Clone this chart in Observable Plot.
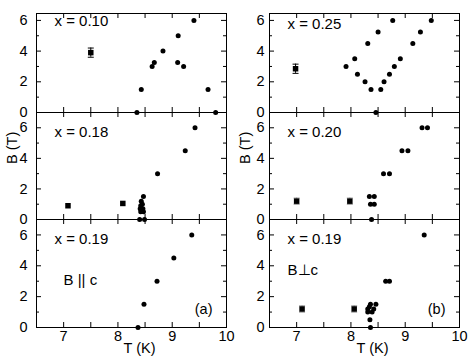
<!DOCTYPE html>
<html>
<head>
<meta charset="utf-8">
<script src="https://cdn.jsdelivr.net/npm/d3@7"></script>
<script src="https://cdn.jsdelivr.net/npm/@observablehq/plot@0.6"></script>
<style>
  html, body { margin: 0; padding: 0; background: white; }
  #chart { position: relative; width: 469px; height: 359px; overflow: hidden; background: white; }
  #chart svg { position: absolute; }
</style>
</head>
<body>
<div id="chart"></div>
<script>
// ---- tick values ----
const xTickLabels = [7, 8, 9, 10];
const xTickMarks = [7, 7.5, 8, 8.5, 9, 9.5];
const yTickLabels = [0, 2, 4, 6];
const yMinorTicks = [1, 3, 5];

// ---- (a) B || c ----
// x = 0.10
const a1DotT = [8.35, 8.43, 8.63, 8.67, 8.83, 9.11, 9.10, 9.21, 9.40, 9.66, 9.80];
const a1DotB = [0, 1.5, 3.0, 3.25, 4.0, 5.0, 3.25, 3.0, 6.0, 1.5, 0];
const a1SqT = [7.5];
const a1SqB = [3.9];
const a1SqErr = [0.3];
// x = 0.18
const a2DotT = [8.40, 8.49, 8.42, 8.47, 8.41, 8.46, 8.42, 8.45, 8.43, 8.47, 8.73, 9.24, 9.42];
const a2DotB = [0, 0, 0.5, 0.5, 0.7, 0.7, 0.9, 1.0, 1.2, 1.5, 3.0, 4.5, 6.0];
const a2SqT = [7.08, 8.09];
const a2SqB = [0.9, 1.05];
const a2SqErr = [0, 0];
// x = 0.19
const a3DotT = [8.37, 8.48, 8.72, 9.03, 9.36];
const a3DotB = [0, 1.5, 3.0, 4.5, 6.0];
const a3SqT = [];
const a3SqB = [];
const a3SqErr = [];

// ---- (b) B ⊥ c ----
// x = 0.25
const b1DotT = [7.91, 8.07, 8.12, 8.26, 8.31, 8.37, 8.46, 8.50, 8.55, 8.61, 8.71, 8.77, 8.80, 8.91, 9.14, 9.28, 9.48];
const b1DotB = [3.0, 3.5, 2.5, 2.0, 4.5, 1.5, 0, 5.25, 1.5, 2.0, 2.5, 6.0, 3.0, 3.5, 4.5, 5.25, 6.0];
const b1SqT = [6.98];
const b1SqB = [2.85];
const b1SqErr = [0.3];
// x = 0.20
const b2DotT = [8.38, 8.36, 8.43, 8.34, 8.43, 8.60, 8.71, 8.94, 9.05, 9.31, 9.41];
const b2DotB = [0, 1.0, 1.0, 1.5, 1.5, 3.0, 3.0, 4.5, 4.5, 6.0, 6.0];
const b2SqT = [7.0, 7.98];
const b2SqB = [1.2, 1.2];
const b2SqErr = [0.2, 0.2];
// x = 0.19
const b3DotT = [8.36, 8.35, 8.31, 8.39, 8.31, 8.42, 8.34, 8.36, 8.46, 8.64, 8.71, 9.35];
const b3DotB = [0, 0.5, 1.0, 1.0, 1.2, 1.2, 1.35, 1.5, 1.5, 3.0, 3.0, 6.0];
const b3SqT = [7.1, 8.06];
const b3SqB = [1.2, 1.2];
const b3SqErr = [0.2, 0.2];

// ---- labels ----
const panelLabels = [["x = 0.10", "x = 0.18", "x = 0.19"], ["x = 0.25", "x = 0.20", "x = 0.19"]];
const fieldLabels = ["B || c", "B\u22A5c"];
const partLabels = ["(a)", "(b)"];
const xLabel = "T (K)";
const yLabel = "B (T)";
const xDomain = [6.5, 10];
const yMax = [6.45, 7, 7];

const series = [
  [[a1DotT, a1DotB, a1SqT, a1SqB, a1SqErr], [a2DotT, a2DotB, a2SqT, a2SqB, a2SqErr], [a3DotT, a3DotB, a3SqT, a3SqB, a3SqErr]],
  [[b1DotT, b1DotB, b1SqT, b1SqB, b1SqErr], [b2DotT, b2DotB, b2SqT, b2SqB, b2SqErr], [b3DotT, b3DotB, b3SqT, b3SqB, b3SqErr]]
];

// ---- layout ----
const cols = [
  {left: 36, right: 226, tickPad: 9},
  {left: 269, right: 459, tickPad: 5}
];
const rows = [
  {top: 13, bottom: 112},
  {top: 112, bottom: 219},
  {top: 219, bottom: 327}
];
const errColors = [["black", "black", "black"], ["black", "#888", "#888"]];
const labelDy = [[7.5, 20, 20], [10.5, 19.5, 20]];
const ML = 40, MR = 12, MT = 8;
const font = "'Liberation Sans', Arial, Helvetica, sans-serif";

const capSymbol = {
  draw(context) {
    context.moveTo(-3, 0);
    context.lineTo(3, 0);
  }
};

const chart = document.getElementById("chart");

cols.forEach((col, ci) => {
  rows.forEach((row, ri) => {
    const [dT, dB, sT, sB, sE] = series[ci][ri];
    const dots = dT.map((t, i) => ({T: t, B: dB[i]}));
    const squares = sT.map((t, i) => ({T: t, B: sB[i], e: sE[i]}));
    const bars = squares.filter(d => d.e > 0);
    const caps = bars.flatMap(d => [{T: d.T, B: d.B - d.e}, {T: d.T, B: d.B + d.e}]);
    const last = ri === 2;
    const MB = last ? 34 : 8;
    const pw = col.right - col.left;
    const ph = row.bottom - row.top;
    const marks = [
      // inward ticks
      Plot.tickX(xTickMarks, {x: d => d, insetTop: ph - 5, stroke: "black"}),
      Plot.tickX(xTickMarks, {x: d => d, insetBottom: ph - 5, stroke: "black"}),
      Plot.tickY(yTickLabels, {y: d => d, insetRight: pw - 5, stroke: "black"}),
      Plot.tickY(yTickLabels, {y: d => d, insetLeft: pw - 5, stroke: "black"}),
      Plot.tickY(yMinorTicks, {y: d => d, insetRight: pw - 3, stroke: "black"}),
      Plot.tickY(yMinorTicks, {y: d => d, insetLeft: pw - 3, stroke: "black"}),
      Plot.frame({stroke: "black", strokeWidth: 1}),
      Plot.axisY(yTickLabels, {tickSize: 0, tickPadding: col.tickPad, fontSize: 14.5, label: null, fill: "black"}),
      // error bars
      Plot.ruleX(bars, {x: "T", y1: d => d.B - d.e, y2: d => d.B + d.e, stroke: errColors[ci][ri], strokeWidth: 1}),
      Plot.dot(caps, {x: "T", y: "B", symbol: capSymbol, fill: "none", stroke: errColors[ci][ri], strokeWidth: 1}),
      Plot.dot(squares, {x: "T", y: "B", symbol: "square", r: 3.1, fill: "black", stroke: "none"}),
      Plot.dot(dots, {x: "T", y: "B", r: 2.5, fill: "black", stroke: "none"}),
      Plot.text([panelLabels[ci][ri]], {text: d => d, frameAnchor: "top-left", lineAnchor: "middle", textAnchor: "start", dx: 18, dy: labelDy[ci][ri], fontSize: 15, fill: "black"})
    ];
    if (ri === 1) {
      marks.push(Plot.text([yLabel], {text: d => d, frameAnchor: "left", lineAnchor: "middle", dx: -24, dy: -2, rotate: -90, fontSize: 14.5, fill: "black"}));
    }
    if (last) {
      marks.push(Plot.axisX(xTickLabels, {tickSize: 0, tickPadding: 3, fontSize: 14.5, label: null, fill: "black"}));
      marks.push(Plot.text([xLabel], {text: d => d, frameAnchor: "bottom", lineAnchor: "middle", dx: 8, dy: 21, fontSize: 14.5, fill: "black"}));
      marks.push(Plot.text([fieldLabels[ci]], {text: d => d, frameAnchor: "top-left", lineAnchor: "middle", textAnchor: "start", dx: ci === 0 ? 27 : 18, dy: ci === 0 ? 61 : 51, fontSize: 15, fill: "black"}));
      marks.push(Plot.text([partLabels[ci]], {text: d => d, frameAnchor: "bottom-right", lineAnchor: "middle", textAnchor: "end", dx: -14, dy: -18.5, fontSize: 14.5, fill: "black"}));
    }
    const svg = Plot.plot({
      width: pw + ML + MR,
      height: ph + MT + MB,
      marginLeft: ML, marginRight: MR, marginTop: MT, marginBottom: MB,
      x: {domain: xDomain, axis: last ? undefined : null},
      y: {domain: [0, yMax[ri]], axis: null},
      style: {background: "transparent", overflow: "visible", fontFamily: font, color: "black"},
      marks
    });
    svg.style.left = (col.left - ML) + "px";
    svg.style.top = (row.top - MT) + "px";
    chart.appendChild(svg);
  });
});
</script>
</body>
</html>
